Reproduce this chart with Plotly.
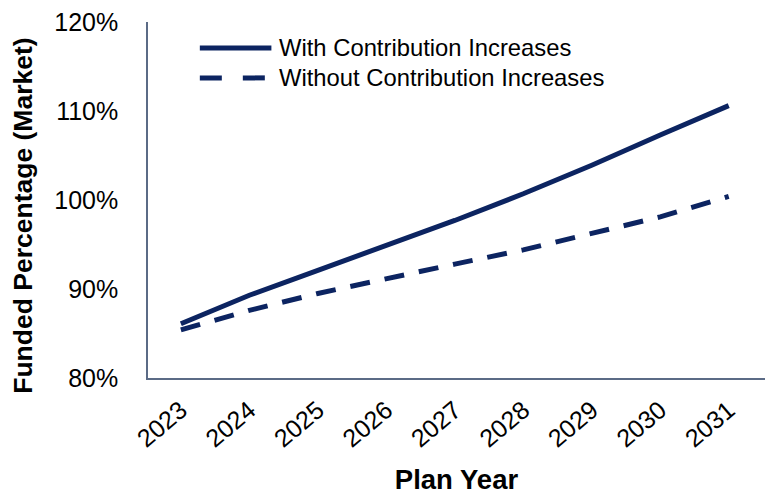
import plotly.graph_objects as go

years = [2023, 2024, 2025, 2026, 2027, 2028, 2029, 2030, 2031]
with_increases = [86.1, 89.3, 92.1, 94.9, 97.7, 100.7, 103.9, 107.3, 110.6]
without_increases = [85.4, 87.6, 89.5, 91.2, 92.8, 94.4, 96.3, 98.1, 100.4]
y_ticks = [80, 90, 100, 110, 120]
y_tick_labels = ["80%", "90%", "100%", "110%", "120%"]
series_names = ["With Contribution Increases", "Without Contribution Increases"]

navy = "#0c2461"
axis_col = "#5b6b86"
font_family = "Liberation Sans, Arial, sans-serif"

fig = go.Figure()
fig.add_trace(go.Scatter(x=years, y=with_increases, mode="lines",
                         name=series_names[0],
                         line=dict(color=navy, width=5)))
fig.add_trace(go.Scatter(x=years, y=without_increases, mode="lines",
                         name=series_names[1],
                         line=dict(color=navy, width=5, dash="20px,15px")))

# manual legend (longer line samples than plotly's built-in legend)
legend_rows = [(0.927, "solid"), (0.843, "22px,21px")]
for (yy, dash), name in zip(legend_rows, series_names):
    fig.add_shape(type="line", xref="paper", yref="paper",
                  x0=0.084, x1=0.200, y0=yy, y1=yy,
                  line=dict(color=navy, width=5, dash=dash))
    fig.add_annotation(xref="paper", yref="paper", x=0.209, y=yy,
                       xanchor="left", yanchor="middle", showarrow=False,
                       text=name, font=dict(size=23.8, color="black"))

# y-axis title
fig.add_annotation(xref="paper", yref="paper", x=-0.203, y=0.455,
                   xanchor="center", yanchor="middle", showarrow=False,
                   textangle=-90, text="<b>Funded Percentage (Market)</b>",
                   font=dict(size=26.5, color="black"))

fig.update_layout(
    width=765, height=495,
    margin=dict(l=148, r=0, t=22, b=117),
    paper_bgcolor="white", plot_bgcolor="white",
    font=dict(family=font_family, color="black"),
    showlegend=False,
)
fig.update_xaxes(
    range=[2022.52, 2031.53], tickvals=years, ticktext=[str(y) for y in years],
    tickangle=-40, tickfont=dict(size=25), showgrid=False, zeroline=False,
    showline=True, linecolor=axis_col, linewidth=1.5, ticks="",
    ticklabelstandoff=6, automargin=False,
    title=dict(text="<b>Plan Year</b>", font=dict(size=27.5), standoff=28),
)
fig.update_yaxes(
    range=[80, 120], tickvals=y_ticks, ticktext=y_tick_labels,
    tickfont=dict(size=25), showgrid=False, zeroline=False,
    showline=True, linecolor=axis_col, linewidth=1.5, ticks="",
    ticklabelstandoff=23, automargin=False,
)

fig.write_html("out.html")
